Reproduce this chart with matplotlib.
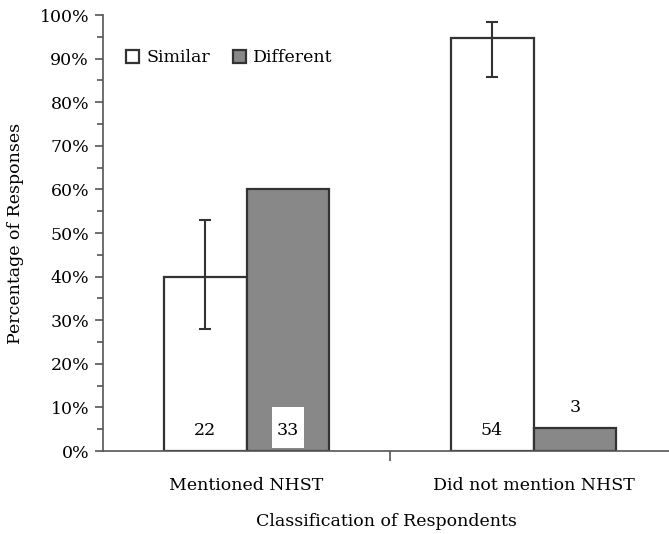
import matplotlib
matplotlib.use("Agg")
import matplotlib.pyplot as plt
import numpy as np
from matplotlib.patches import Rectangle
from matplotlib.ticker import MultipleLocator, PercentFormatter

categories = ["Mentioned NHST", "Did not mention NHST"]
series = ["Similar", "Different"]
similar = [40.0, 94.7]
different = [60.0, 5.3]
similar_err_low = [28.0, 85.7]
similar_err_high = [53.0, 98.3]
similar_n = ["22", "54"]
different_n = ["33", "3"]

plt.rcParams['font.family'] = ['DejaVu Serif']
fs = 12.5

fig = plt.figure(figsize=(6.69, 5.34), dpi=100)
ax = fig.add_axes([103/669, 83/534, 1 - 103/669, (451-15)/534])

x = np.arange(len(categories))
w = 0.289
edge = "#333333"
gray = "#888888"
b1 = ax.bar(x - w/2, similar, w, color="white", edgecolor=edge, linewidth=1.6, label=series[0], zorder=2)
b2 = ax.bar(x + w/2, different, w, color=gray, edgecolor=edge, linewidth=1.6, label=series[1], zorder=2)

lo = np.array(similar) - np.array(similar_err_low)
hi = np.array(similar_err_high) - np.array(similar)
ax.errorbar(x - w/2, similar, yerr=[lo, hi], fmt="none", ecolor=edge, elinewidth=1.5, capsize=4, capthick=1.5, zorder=3)

# n labels
for i in range(len(categories)):
    ax.text(x[i] - w/2, 4.8, similar_n[i], ha="center", va="center", fontsize=fs, zorder=4)
bw = 0.1115
ax.add_patch(Rectangle((x[0] + w/2 - bw/2, 0.7), bw, 9.4, facecolor="white", edgecolor="none", zorder=3))
ax.text(x[0] + w/2, 4.8, different_n[0], ha="center", va="center", fontsize=fs, zorder=4)
ax.text(x[1] + w/2, different[1] + 4.6, different_n[1], ha="center", va="center", fontsize=fs, zorder=4)

ax.set_xlim(-0.5, 1.472)
ax.set_ylim(0, 100)
ax.yaxis.set_major_locator(MultipleLocator(10))
ax.yaxis.set_minor_locator(MultipleLocator(5))
ax.yaxis.set_major_formatter(PercentFormatter(decimals=0))
ax.set_xticks([0.5], minor=False)
ax.set_xticklabels([""])
ax.set_xticks(x, minor=True)
ax.set_xticklabels(categories, minor=True, fontsize=fs)
ax.tick_params(axis="x", which="minor", length=0, pad=18.5)
ax.tick_params(axis="x", which="major", length=7, direction="out", color="#555555", width=1.2)
ax.tick_params(axis="y", which="major", direction="out", length=6, color="#555555", width=1.2, labelsize=fs, pad=4)
ax.tick_params(axis="y", which="minor", direction="out", length=4, color="#555555", width=1.2)

for s in ["top", "right"]:
    ax.spines[s].set_visible(False)
for s in ["left", "bottom"]:
    ax.spines[s].set_color("#555555")
    ax.spines[s].set_linewidth(1.2)

ax.set_ylabel("Percentage of Responses", fontsize=fs, labelpad=11)
ax.set_xlabel("Classification of Respondents", fontsize=fs, labelpad=14)

ax.legend(loc="upper left", bbox_to_anchor=(0.013, 0.957), ncol=2, frameon=False, fontsize=fs,
          handlelength=0.75, handleheight=0.75, handletextpad=0.42, columnspacing=1.33)

fig.savefig("out.png", dpi=100)
